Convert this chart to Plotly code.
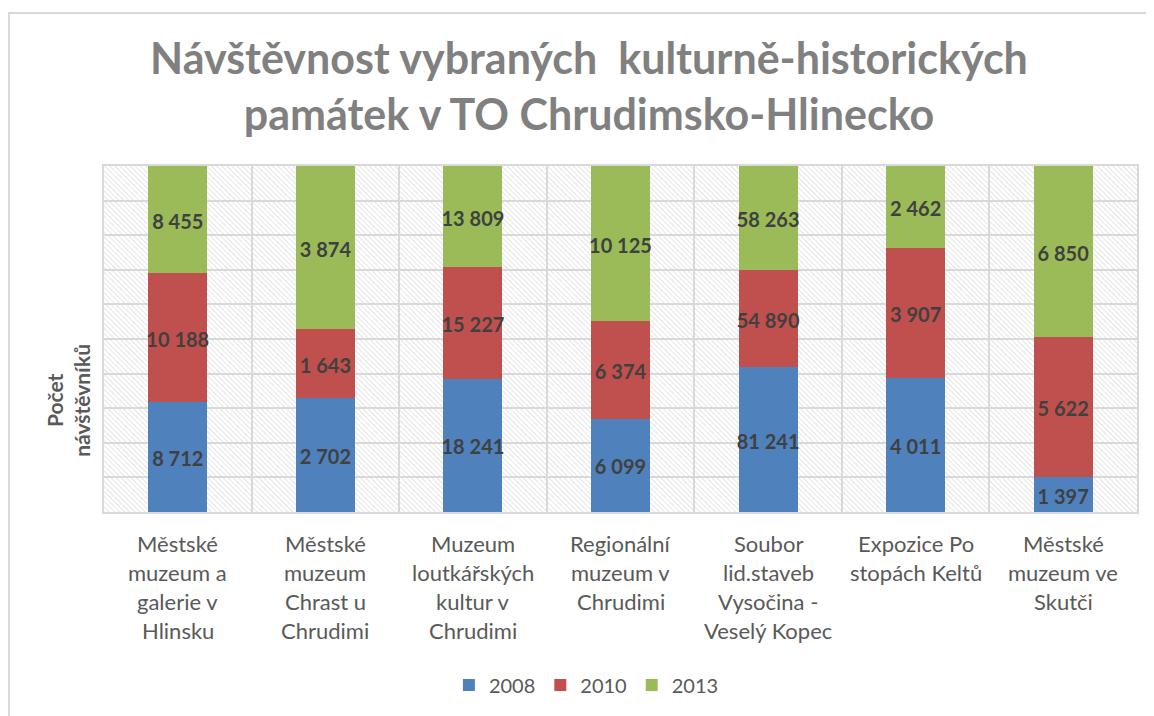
import base64
import plotly.graph_objects as go

categories = [
    "Městské<br>muzeum a<br>galerie v<br>Hlinsku",
    "Městské<br>muzeum<br>Chrast u<br>Chrudimi",
    "Muzeum<br>loutkářských<br>kultur v<br>Chrudimi",
    "Regionální<br>muzeum v<br>Chrudimi",
    "Soubor<br>lid.staveb<br>Vysočina -<br>Veselý Kopec",
    "Expozice Po<br>stopách Keltů",
    "Městské<br>muzeum ve<br>Skutči",
]
v2008 = [8712, 2702, 18241, 6099, 81241, 4011, 1397]
v2010 = [10188, 1643, 15227, 6374, 54890, 3907, 5622]
v2013 = [8455, 3874, 13809, 10125, 58263, 2462, 6850]
series_names = ["2008", "2010", "2013"]
colors = ["#4F81BD", "#C0504D", "#9BBB59"]


def fmt(v):
    return f"{v:,}".replace(",", " ")


FONT = "Lato, 'Open Sans', sans-serif"
series = [v2008, v2010, v2013]
totals = [sum(t) for t in zip(*series)]
LABEL_NUDGE = 1.2  # small downward nudge (percent units) for visual centring

fig = go.Figure()

for name, vals, col in zip(series_names, series, colors):
    fig.add_trace(go.Bar(
        x=categories, y=vals, name=name, marker_color=col,
        marker_line_width=0, textposition="none",
    ))

# data labels centred in each (percent-normalised) segment
base = [0.0] * len(categories)
for vals in series:
    pct = [v / t * 100 for v, t in zip(vals, totals)]
    mids = [b + p / 2 - LABEL_NUDGE for b, p in zip(base, pct)]
    base = [b + p for b, p in zip(base, pct)]
    fig.add_trace(go.Scatter(
        x=categories, y=mids, mode="text", text=[fmt(v) for v in vals],
        textposition="middle center", showlegend=False, hoverinfo="skip",
        textfont=dict(family=FONT, size=20, color="#404040", weight="bold"),
        cliponaxis=False,
    ))

# hatched plot-area background (SVG pattern image)
svg = ("<svg xmlns='http://www.w3.org/2000/svg' width='1033' height='346'>"
       "<defs><pattern id='p' width='3.6' height='3.6' patternUnits='userSpaceOnUse' "
       "patternTransform='rotate(-45)'>"
       "<line x1='0' y1='0' x2='0' y2='3.6' stroke='#D4D4D4' stroke-width='1.2'/>"
       "</pattern></defs>"
       "<rect width='100%' height='100%' fill='white'/>"
       "<rect width='100%' height='100%' fill='url(#p)'/></svg>")
img_src = "data:image/svg+xml;base64," + base64.b64encode(svg.encode()).decode()

annotations = []
# category labels, one annotation per line
for cat in categories:
    for i, line in enumerate(cat.split("<br>")):
        annotations.append(dict(
            text=line, x=cat, xref="x", y=-(31 + 29.3 * i) / 346, yref="paper",
            xanchor="center", yanchor="middle", showarrow=False,
            font=dict(family=FONT, size=22, color="#595959"),
        ))
# y-axis title
annotations.append(dict(
    text="<b>Počet<br>návštěvníků</b>", x=-0.035, xref="paper", y=0.324, yref="paper",
    xanchor="center", yanchor="middle", textangle=-90, showarrow=False,
    font=dict(family=FONT, size=21, color="#595959"),
))

fig.update_layout(
    width=1154, height=716,
    barmode="stack", barnorm="percent", bargap=0.6,
    paper_bgcolor="white", plot_bgcolor="rgba(0,0,0,0)",
    margin=dict(l=96, r=25, t=158, b=212),
    font=dict(family=FONT, color="#595959"),
    title=dict(
        text="Návštěvnost vybraných  kulturně-historických<br>památek v TO Chrudimsko-Hlinecko",
        xref="paper", x=0.4695, xanchor="center",
        yref="container", y=0.908, yanchor="middle",
        font=dict(family=FONT, size=43, color="#808080", weight="bold"),
    ),
    xaxis=dict(
        type="category", tickson="boundaries", showgrid=True,
        gridcolor="#D9D9D9", gridwidth=2, ticks="", showticklabels=False,
        showline=True, linecolor="#D9D9D9", linewidth=2, mirror=True,
    ),
    yaxis=dict(
        range=[0, 100], dtick=10, showticklabels=False, showgrid=True,
        gridcolor="#D9D9D9", gridwidth=2, zeroline=False,
        showline=True, linecolor="#D9D9D9", linewidth=2, mirror=True,
    ),
    legend=dict(orientation="h", x=0.467, xanchor="center", y=-0.5, yanchor="middle",
                font=dict(size=20, color="#595959"), traceorder="normal"),
    images=[dict(source=img_src, xref="paper", yref="paper", x=0, y=1,
                 sizex=1, sizey=1, sizing="stretch", xanchor="left", yanchor="top",
                 layer="below")],
    annotations=annotations,
    shapes=[dict(type="rect", xref="paper", yref="paper",
                 x0=-0.092, x1=1.2, y0=-0.8, y1=1.442,
                 line=dict(color="#D9D9D9", width=2), layer="below")],
)

fig.write_html("out.html")
